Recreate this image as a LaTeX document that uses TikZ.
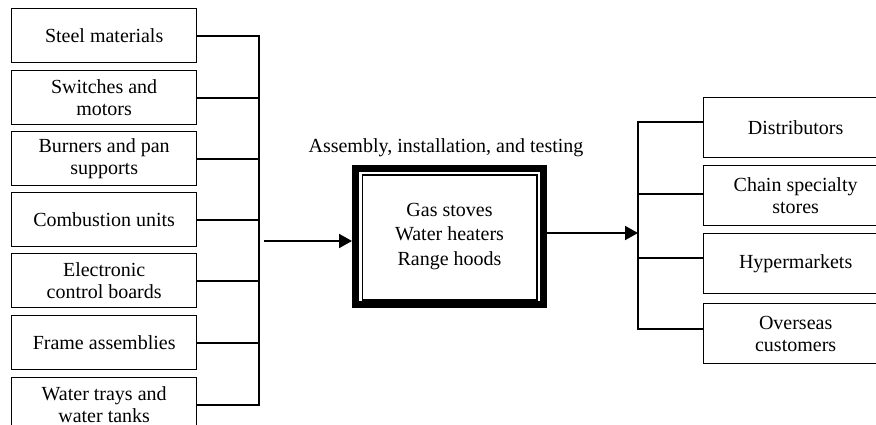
\documentclass[tikz,border=0pt]{standalone}
\usepackage{fontspec}
\setmainfont{Liberation Serif}
\usetikzlibrary{arrows.meta}
\begin{document}
\begin{tikzpicture}[x=1pt,y=-1pt,
  inbox/.style={draw, line width=1.3pt, minimum width=185pt, minimum height=54pt, inner sep=2pt, align=center, font=\fontsize{20}{22}\selectfont, anchor=north west},
  outbox/.style={inbox, minimum width=184pt, minimum height=60pt},
  wire/.style={line width=2pt},
  arr/.style={wire, -{Triangle[length=13pt,width=14pt]}}]
\useasboundingbox (0,0) rectangle (876,425);
\clip (0,0) rectangle (876,425);
% inputs
\node[inbox] (s1) at (11,8) {Steel materials};
\node[inbox] (s2) at (11,70) {Switches and\\motors};
\node[inbox] (s3) at (11,131) {Burners and pan\\supports};
\node[inbox] (s4) at (11,192) {Combustion units};
\node[inbox] (s5) at (11,253) {Electronic\\control boards};
\node[inbox] (s6) at (11,315) {Frame assemblies};
\node[inbox] (s7) at (11,377) {Water trays and\\water tanks};
\coordinate (lb) at (259,0);
\foreach \i in {1,...,7} \draw[wire] (s\i.east) -- (s\i.east -| lb);
\draw[wire] ([yshift=1pt]s1.east -| lb) -- ([yshift=-1pt]s7.east -| lb);
% core
\node[draw, line width=7pt, minimum width=188pt, minimum height=136pt, align=center, font=\fontsize{20}{24.5}\selectfont] (core) at (449.5,236.5) {Gas stoves\\Water heaters\\Range hoods};
\draw[line width=1.3pt] ([xshift=10.5pt,yshift=-10pt]core.north west) rectangle ([xshift=-10pt,yshift=8pt]core.south east);
\node[font=\fontsize{20}{24}\selectfont, anchor=base] (lbl) at (446,153) {Assembly, installation, and testing};
\coordinate (lin) at (264,241);
\draw[arr] (lin) -- (lin -| core.west);
% outputs
\node[outbox] (d1) at (703,97) {Distributors};
\node[outbox] (d2) at (703,165) {Chain specialty\\stores};
\node[outbox] (d3) at (703,233) {Hypermarkets};
\node[outbox] (d4) at (703,303) {Overseas\\customers};
\coordinate (rb) at (638,0);
\draw[arr] ([yshift=3.5pt]core.east) -- ([yshift=3.5pt]core.east -| rb);
\draw[wire] ([yshift=6pt]d1.west) -- ([yshift=6pt]d1.west -| rb);
\draw[wire] ([yshift=2pt]d2.west) -- ([yshift=2pt]d2.west -| rb);
\draw[wire] ([yshift=6pt]d3.west) -- ([yshift=6pt]d3.west -| rb);
\draw[wire] ([yshift=5pt]d4.west) -- ([yshift=5pt]d4.west -| rb);
\draw[wire] ([yshift=7pt]d1.west -| rb) -- ([yshift=4pt]d4.west -| rb);
\end{tikzpicture}
\end{document}
